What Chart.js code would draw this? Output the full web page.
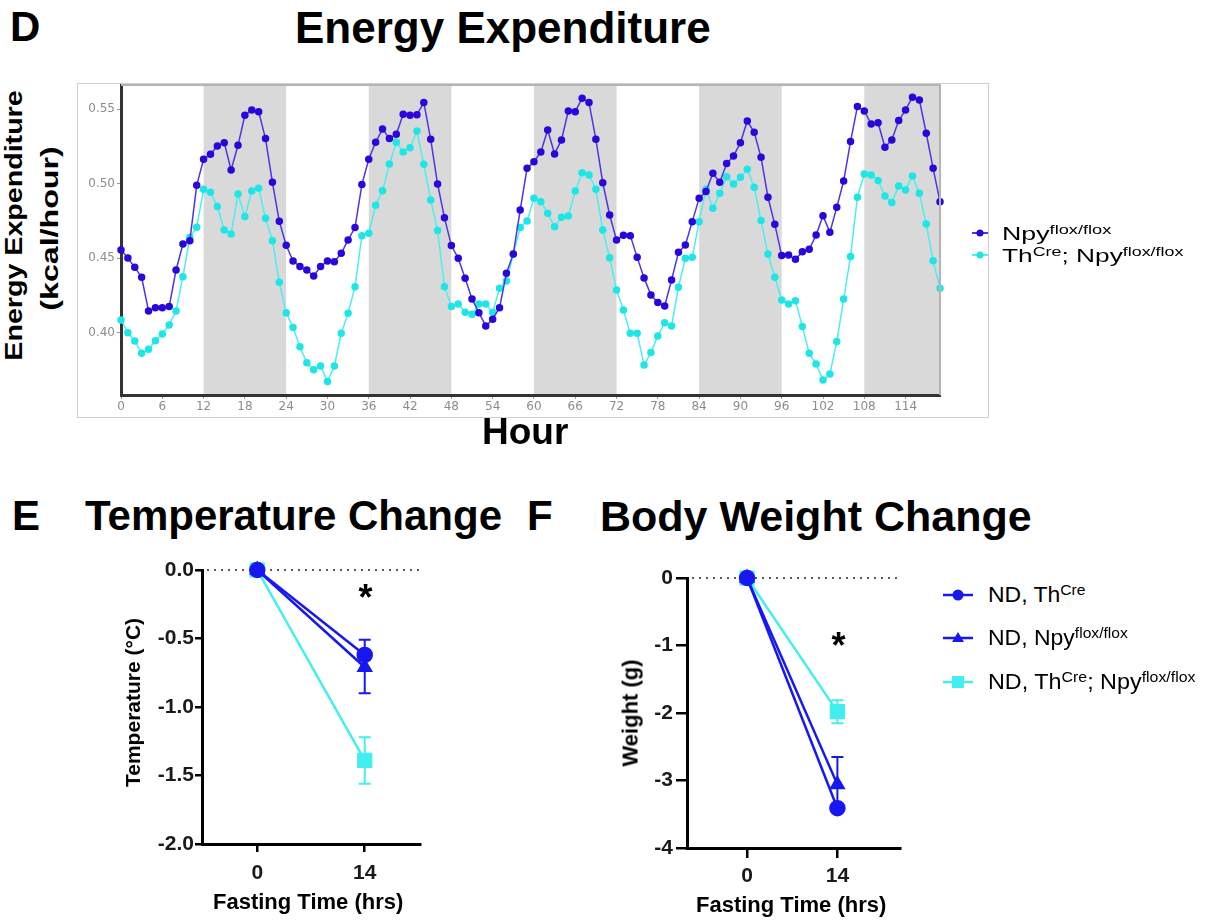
<!DOCTYPE html>
<html>
<head>
<meta charset="utf-8">
<script src="https://cdn.jsdelivr.net/npm/chart.js@4.4.0/dist/chart.umd.min.js"></script>
<style>
body { margin:0; width:1206px; height:920px; position:relative; background:#fff; overflow:hidden;
       font-family:"Liberation Sans", Arial, sans-serif; }
.t { position:absolute; white-space:nowrap; color:#000; }
.b { font-weight:bold; }
.t sup { font-size:0.68em; vertical-align:0.5em; line-height:0; }
canvas, svg { position:absolute; }
#box { position:absolute; left:77px; top:83px; width:912px; height:335px; box-sizing:border-box; border:1px solid #cfcfcf; }
</style>
</head>
<body>
<div id="box"></div>
<canvas id="eeChart" width="910" height="333" style="left:78px;top:84px"></canvas>
<canvas id="tempChart" width="340" height="380" style="left:100px;top:540px"></canvas>
<canvas id="weightChart" width="330" height="370" style="left:590px;top:550px"></canvas>

<svg width="20" height="14" style="left:970px;top:226px"><line x1="2" y1="7" x2="18" y2="7" stroke="#4a36e6" stroke-width="2"/><circle cx="10" cy="7" r="3.5" fill="#2a06dc"/></svg>
<svg width="20" height="14" style="left:970px;top:248px"><line x1="2" y1="7" x2="18" y2="7" stroke="#4deeee" stroke-width="2"/><circle cx="10" cy="7" r="3.5" fill="#1fe6e6"/></svg>

<svg width="36" height="20" style="left:940px;top:585px"><line x1="3" y1="10" x2="33" y2="10" stroke="#1717f2" stroke-width="2.5"/><circle cx="18" cy="10" r="5.5" fill="#1717f2"/></svg>
<svg width="36" height="20" style="left:940px;top:628px"><line x1="3" y1="10" x2="33" y2="10" stroke="#1717f2" stroke-width="2.5"/><polygon points="18,4 24,14 12,14" fill="#1717f2"/></svg>
<svg width="36" height="20" style="left:940px;top:672px"><line x1="3" y1="10" x2="33" y2="10" stroke="#42eeee" stroke-width="2.5"/><rect x="12" y="4" width="12" height="12" fill="#42eeee"/></svg>

<script>
// ---- D: energy expenditure, hourly means ----
const hours = [0,1,2,3,4,5,6,7,8,9,10,11,12,13,14,15,16,17,18,19,20,21,22,23,
  24,25,26,27,28,29,30,31,32,33,34,35,36,37,38,39,40,41,42,43,44,45,46,47,
  48,49,50,51,52,53,54,55,56,57,58,59,60,61,62,63,64,65,66,67,68,69,70,71,
  72,73,74,75,76,77,78,79,80,81,82,83,84,85,86,87,88,89,90,91,92,93,94,95,
  96,97,98,99,100,101,102,103,104,105,106,107,108,109,110,111,112,113,114,115,116,117,118,119];
const npyFlox = [0.4555,0.450,0.4438,0.4371,0.4145,0.4167,0.4167,0.4174,0.442,0.4595,0.4617,0.4989,
  0.5164,0.5198,0.5254,0.5276,0.5092,0.5258,0.546,0.5496,0.5484,0.5303,0.5009,0.4747,
  0.4586,0.448,0.4443,0.442,0.438,0.4443,0.4481,0.4476,0.4532,0.4622,0.4705,0.4994,
  0.5164,0.5278,0.5368,0.5303,0.5332,0.5466,0.546,0.5464,0.5545,0.5298,0.4998,0.4772,
  0.4584,0.4499,0.4364,0.4225,0.4133,0.4044,0.4089,0.4167,0.4398,0.4528,0.4823,0.5103,
  0.5148,0.5213,0.5361,0.52,0.5294,0.5489,0.5484,0.5574,0.5545,0.5298,0.5007,0.479,
  0.4622,0.4653,0.4651,0.4505,0.4367,0.4252,0.4201,0.4178,0.4353,0.4539,0.4588,0.4745,
  0.4902,0.4947,0.507,0.5009,0.5135,0.5186,0.5276,0.5422,0.5345,0.5177,0.4909,0.4727,
  0.4517,0.4521,0.4492,0.4543,0.4559,0.4655,0.4785,0.4673,0.4841,0.5018,0.5283,0.5518,
  0.5489,0.5401,0.541,0.5245,0.5294,0.5424,0.5496,0.5581,0.5563,0.5339,0.5103,0.4879];
const thCreNpyFlox = [0.4084,0.3999,0.3943,0.386,0.3887,0.3945,0.399,0.4051,0.4145,0.4375,0.464,0.4707,
  0.4962,0.4942,0.4846,0.4689,0.4662,0.4931,0.4779,0.4951,0.4969,0.4767,0.4617,0.4337,
  0.4133,0.4033,0.3905,0.3797,0.375,0.3775,0.367,0.3775,0.3995,0.4129,0.4308,0.4651,
  0.4667,0.4855,0.4953,0.5133,0.5278,0.5213,0.5242,0.5354,0.513,0.4891,0.4685,0.4308,
  0.4174,0.4192,0.4136,0.4122,0.4192,0.4192,0.4136,0.4297,0.4346,0.4526,0.4705,0.475,
  0.4902,0.4879,0.4801,0.4711,0.4774,0.4783,0.4951,0.5074,0.5059,0.4962,0.4689,0.4503,
  0.4286,0.4151,0.3995,0.3995,0.3782,0.3865,0.3977,0.4066,0.4044,0.4304,0.4499,0.4505,
  0.4745,0.4962,0.4835,0.4935,0.5047,0.4998,0.5043,0.5097,0.4976,0.4752,0.4528,0.4371,
  0.4219,0.4192,0.4214,0.404,0.386,0.3789,0.3681,0.3721,0.3939,0.4225,0.451,0.4909,
  0.5065,0.5059,0.5021,0.4918,0.4873,0.4985,0.4958,0.5052,0.4935,0.4729,0.4483,0.4297];
const darkPhases = [[12,24],[36,48],[60,72],[84,96],[108,120]];
const hourTicks = [0,6,12,18,24,30,36,42,48,54,60,66,72,78,84,90,96,102,108,114];
const eeTicks = [0.40, 0.45, 0.50, 0.55];

// ---- E / F: fasting ----
const fastTimes = [0, 14];
const fastTicks = [0, 14];
const tempThCre = [0, -0.62];
const tempThCreUp = [0, 0.11];
const tempThCreDown = [0, 0];
const tempNpy = [0, -0.71];
const tempNpyUp = [0, 0];
const tempNpyDown = [0, 0.19];
const tempDko = [0, -1.39];
const tempDkoUp = [0, 0.17];
const tempDkoDown = [0, 0.17];
const weightThCre = [0, -3.41];
const weightThCreUp = [0, 0];
const weightThCreDown = [0, 0];
const weightNpy = [0, -3.06];
const weightNpyUp = [0, 0.41];
const weightNpyDown = [0, 0.35];
const weightDko = [0, -1.98];
const weightDkoUp = [0, 0.17];
const weightDkoDown = [0, 0.17];

const blue = '#1717f2';
const cyan = '#42eeee';

const darkBands = {
  id: 'darkBands',
  beforeDraw(chart) {
    const {ctx, chartArea: a, scales: {x}} = chart;
    ctx.save();
    ctx.fillStyle = '#d9d9d9';
    darkPhases.forEach(p => {
      const x1 = x.getPixelForValue(p[0]);
      const x2 = Math.min(x.getPixelForValue(p[1]), a.right);
      ctx.fillRect(x1, a.top, x2 - x1, a.bottom - a.top);
    });
    ctx.restore();
  },
  afterDraw(chart) {
    const {ctx, chartArea: a} = chart;
    ctx.save();
    ctx.strokeStyle = '#b4b4b4';
    ctx.lineWidth = 2;
    ctx.beginPath();
    ctx.moveTo(a.left, a.top + 1);
    ctx.lineTo(a.right, a.top + 1);
    ctx.lineTo(a.right, a.bottom);
    ctx.stroke();
    ctx.restore();
  }
};

const errorBars = {
  id: 'errorBars',
  beforeDatasetsDraw(chart) {
    const {ctx, chartArea: a, scales: {x, y}} = chart;
    ctx.save();
    ctx.strokeStyle = '#222';
    ctx.lineWidth = 1.6;
    ctx.setLineDash([2, 5]);
    const y0 = y.getPixelForValue(0);
    ctx.beginPath();
    ctx.moveTo(a.left + 5, y0);
    ctx.lineTo(a.right, y0);
    ctx.stroke();
    ctx.setLineDash([]);
    chart.data.datasets.forEach(ds => {
      ctx.strokeStyle = ds.borderColor;
      ctx.lineWidth = 2;
      ds.data.forEach((p, i) => {
        const px = x.getPixelForValue(p.x);
        const ends = [p.y + ds.errUp[i], p.y - ds.errDown[i]];
        ends.forEach(e => {
          if (e === p.y) return;
          const pe = y.getPixelForValue(e);
          ctx.beginPath();
          ctx.moveTo(px, y.getPixelForValue(p.y));
          ctx.lineTo(px, pe);
          ctx.moveTo(px - 6, pe);
          ctx.lineTo(px + 6, pe);
          ctx.stroke();
        });
      });
    });
    ctx.restore();
  }
};

// stop Chart.js from shrinking the plot for label overhang
function noPad(s) {
  s.paddingTop = 0;
  s.paddingBottom = 0;
  s.paddingLeft = 0;
  s.paddingRight = 0;
}

const eeTickFont = {family: 'DejaVu Sans', size: 12};

let eeChart = new Chart(document.getElementById('eeChart'), {
  type: 'line',
  data: {
    datasets: [{
      label: 'Npy flox/flox',
      data: hours.map((h, i) => ({x: h, y: npyFlox[i]})),
      borderColor: '#4a36e6',
      backgroundColor: '#2a06dc',
      pointBackgroundColor: '#2a06dc',
      pointBorderColor: '#2a06dc',
      pointRadius: 3,
      borderWidth: 1.5,
      tension: 0,
      clip: false
    }, {
      label: 'ThCre; Npy flox/flox',
      data: hours.map((h, i) => ({x: h, y: thCreNpyFlox[i]})),
      borderColor: '#4deeee',
      backgroundColor: '#1fe6e6',
      pointBackgroundColor: '#1fe6e6',
      pointBorderColor: '#1fe6e6',
      pointRadius: 3,
      borderWidth: 1.5,
      tension: 0,
      clip: false
    }]
  },
  options: {
    responsive: false,
    animation: false,
    layout: {autoPadding: false, padding: {top: 0, right: 48, left: 0, bottom: 0}},
    plugins: {legend: {display: false}, tooltip: {enabled: false}},
    scales: {
      x: {
        type: 'linear', min: 0, max: 119,
        afterFit: s => { s.height = 22; noPad(s); },
        afterBuildTicks: s => { s.ticks = hourTicks.map(v => ({value: v})); },
        ticks: {color: '#8c8c8c', font: eeTickFont, padding: 1, maxRotation: 0, autoSkip: false},
        grid: {drawOnChartArea: false, tickLength: 4, color: '#999'},
        border: {color: '#333', width: 3}
      },
      y: {
        min: 0.358, max: 0.567,
        afterFit: s => { s.width = 43; noPad(s); },
        afterBuildTicks: s => { s.ticks = eeTicks.map(v => ({value: v})); },
        ticks: {callback: v => v.toFixed(2), color: '#8c8c8c', font: eeTickFont, padding: 2},
        grid: {drawOnChartArea: false, tickLength: 4, color: '#999'},
        border: {color: '#333', width: 3}
      }
    }
  },
  plugins: [darkBands]
});

const boldFont = {family: 'Liberation Sans', size: 21, weight: 'bold'};

function series(label, vals, up, down, color, style, radius) {
  return {
    label: label,
    data: fastTimes.map((t, i) => ({x: t, y: vals[i]})),
    errUp: up,
    errDown: down,
    borderColor: color,
    backgroundColor: color,
    pointBackgroundColor: color,
    pointBorderColor: color,
    pointStyle: style,
    pointRadius: radius,
    borderWidth: 2.5,
    clip: false
  };
}

function fastChart(id, sets, o) {
  return new Chart(document.getElementById(id), {
    type: 'line',
    data: {datasets: sets},
    options: {
      responsive: false,
      animation: false,
      layout: {autoPadding: false, padding: {top: o.padTop, right: o.padRight, left: 0, bottom: 0}},
      plugins: {legend: {display: false}, tooltip: {enabled: false}},
      scales: {
        x: {
          type: 'linear', min: o.xMin, max: o.xMax,
          afterFit: s => { s.height = o.xAxisH; noPad(s); },
          afterBuildTicks: s => { s.ticks = fastTicks.map(v => ({value: v})); },
          ticks: {color: '#1a1a1a', font: boldFont, padding: o.xPad, maxRotation: 0},
          grid: {drawOnChartArea: false, tickLength: o.xTick, color: '#000', lineWidth: 2.5},
          border: {color: '#000', width: 3}
        },
        y: {
          min: o.yMin, max: 0,
          afterFit: s => { s.width = o.yAxisW; noPad(s); },
          ticks: {stepSize: o.yStep, callback: v => v.toFixed(o.digits), color: '#1a1a1a', font: boldFont, padding: o.yPad},
          grid: {drawOnChartArea: false, tickLength: o.yTick, color: '#000', lineWidth: 2.5},
          border: {color: '#000', width: 3}
        }
      }
    },
    plugins: [errorBars]
  });
}

let tempChart = fastChart('tempChart', [
  series('ND, ThCre', tempThCre, tempThCreUp, tempThCreDown, blue, 'circle', 7),
  series('ND, Npy flox/flox', tempNpy, tempNpyUp, tempNpyDown, blue, 'triangle', 7),
  series('ND, ThCre; Npy flox/flox', tempDko, tempDkoUp, tempDkoDown, cyan, 'rect', 9)
], {padTop: 30, padRight: 20, xMin: -7.2, xMax: 21.2, xAxisH: 76, yAxisW: 102, yMin: -2, yStep: 0.5, digits: 1,
    xPad: 9, xTick: 8, yPad: 1, yTick: 7});

let weightChart = fastChart('weightChart', [
  series('ND, ThCre', weightThCre, weightThCreUp, weightThCreDown, blue, 'circle', 7),
  series('ND, Npy flox/flox', weightNpy, weightNpyUp, weightNpyDown, blue, 'triangle', 7),
  series('ND, ThCre; Npy flox/flox', weightDko, weightDkoUp, weightDkoDown, cyan, 'rect', 9)
], {padTop: 28, padRight: 20, xMin: -9.3, xMax: 23.7, xAxisH: 72, yAxisW: 97, yMin: -4, yStep: 1, digits: 0,
    xPad: 6, xTick: 10, yPad: 3, yTick: 11});

// ---- text ----
function put(html, left, baseline, size, bold) {
  const el = document.createElement('div');
  el.className = 't' + (bold ? ' b' : '');
  el.innerHTML = html;
  el.style.fontSize = size + 'px';
  el.style.lineHeight = size + 'px';
  el.style.left = left + 'px';
  el.style.top = (baseline - 0.8465 * size) + 'px';
  document.body.appendChild(el);
  return el;
}
function putC(html, cx, baseline, size, bold) {
  const el = put(html, 0, baseline, size, bold);
  el.style.left = (cx - el.offsetWidth / 2) + 'px';
  return el;
}
function fitWidth(el, w) {
  el.style.transformOrigin = 'left center';
  el.style.transform = 'scaleX(' + (w / el.offsetWidth) + ')';
}
function rotated(html, cx, cy, size, len) {
  const el = put(html, 0, 0, size, true);
  const w = el.offsetWidth, h = el.offsetHeight;
  el.style.left = (cx - w / 2) + 'px';
  el.style.top = (cy - h / 2) + 'px';
  const s = len ? len / w : 1;
  el.style.transform = 'rotate(-90deg) scaleX(' + s + ')';
  return el;
}

put('D', 10, 42, 42, true);
put('Energy Expenditure', 295, 43, 44, true);
put('Hour', 482, 444, 37, true);
rotated('Energy Expenditure', 14, 225, 23, 270);
rotated('(kcal/hour)', 51, 228, 23, 165);
fitWidth(put('Npy<sup>flox/flox</sup>', 1002, 240, 18, false), 110);
fitWidth(put('Th<sup>Cre</sup>; Npy<sup>flox/flox</sup>', 1002, 262, 18, false), 181);

put('E', 12, 531, 42, true);
put('Temperature Change', 85, 531, 42, true);
put('F', 527, 531, 42, true);
put('Body Weight Change', 600, 531, 43, true);
putC('*', 365.5, 610, 36, true);
putC('*', 838.5, 658, 36, true);
rotated('Temperature (°C)', 132, 702, 21, 0);
rotated('Weight (g)', 630, 713, 22, 0);
putC('Fasting Time (hrs)', 308, 910, 22, true);
putC('Fasting Time (hrs)', 791, 913, 22, true);
fitWidth(put('ND, Th<sup>Cre</sup>', 988, 603, 22, false), 97);
fitWidth(put('ND, Npy<sup>flox/flox</sup>', 988, 646, 22, false), 140);
fitWidth(put('ND, Th<sup>Cre</sup>; Npy<sup>flox/flox</sup>', 988, 690, 22, false), 207);
</script>
</body>
</html>
